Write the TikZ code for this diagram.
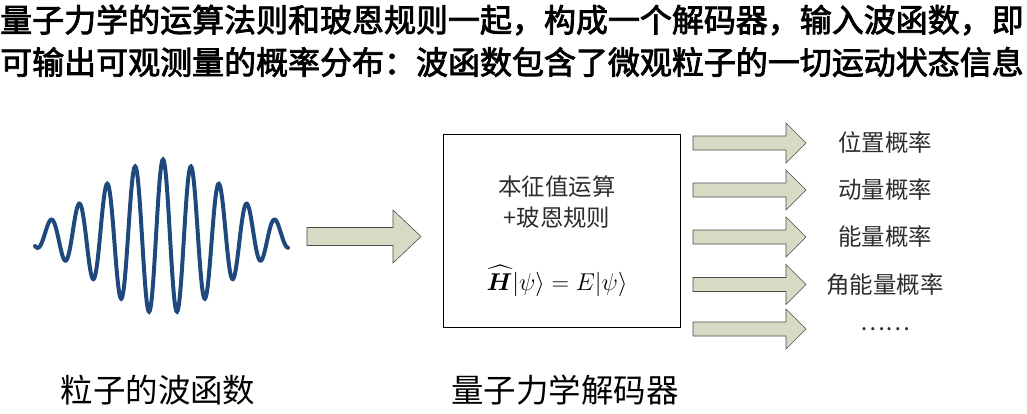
\documentclass[tikz,border=0pt]{standalone}
\usepackage{fontspec}
\usepackage{amsmath,bm}
\newfontfamily\cjk{Noto Sans CJK SC}
\newfontfamily\cjkhead[FakeBold=2.5]{Noto Sans CJK SC}
\usetikzlibrary{positioning}
\definecolor{wavblue}{RGB}{31,73,125}
\definecolor{arrowfill}{RGB}{215,218,196}
\definecolor{textgray}{RGB}{45,45,45}

\begin{document}
\begin{tikzpicture}[x=0.03cm, y=-0.03cm, font=\cjk,
        title/.style={anchor=west, inner sep=0pt, font=\cjkhead\fontsize{27.3}{30}\selectfont},
        caption/.style={inner sep=0pt, font=\cjk\fontsize{27.7}{30}\selectfont},
        decoder/.style={rectangle, draw=black, line width=0.8pt,
                        minimum width=7.11cm, minimum height=5.79cm},
        inbox/.style={inner sep=0pt, text=textgray, font=\cjk\fontsize{20}{24}\selectfont},
        result/.style={inner sep=0pt, text=textgray, font=\cjk\fontsize{20}{24}\selectfont},
        blockarrow/.style={draw=black!70, fill=arrowfill, line width=0.5pt, line join=miter}
    ]
        \useasboundingbox (0,0) rectangle (1027,413);
        % title
        \node[title] (t1) at (0,20) {量子力学的运算法则和玻恩规则一起，构成一个解码器，输入波函数，即};
        \node[title] (t2) at (0,62) {可输出可观测量的概率分布：波函数包含了微观粒子的一切运动状态信息};
        % wave packet
        \coordinate (wave) at (163,236.5);
        \draw[wavblue, line width=3.4pt, line cap=round]
            plot[domain=-128:125, samples=400, smooth]
            ({163+\x}, {236.5-77*exp(-(\x/10)*(\x/10)/82.52)*cos(\x/28*360)});
        \node[caption] (cwave) at (158,390) {粒子的波函数};
        % input arrow
        \draw[blockarrow] (307,227.5) -- (393,227.5) -- (393,210) -- (421,236.5)
            -- (393,263) -- (393,245.5) -- (307,245.5) -- cycle;
        % decoder
        \node[decoder] (dec) at (561.5,230.5) {};
        \node[inbox] (eig) at (557,187) {本征值运算};
        \node[inbox] (born) at (557,218) {+玻恩规则};
        \node[inbox, text=black, font=\fontsize{22}{26}\selectfont] (eq) at (557,281)
            {$\widehat{\bm{H}}|\psi\rangle = E|\psi\rangle$};
        \node[caption] (cdec) at (565,390) {量子力学解码器};
        % outputs
        \foreach \y/\txt [count=\i] in {143/位置概率, 190/动量概率, 237/能量概率,
                                        284.5/角能量概率, 329/……} {
            \draw[blockarrow] (693,\y-7) -- (786,\y-7) -- (786,\y-20) -- (806,\y)
                -- (786,\y+20) -- (786,\y+7) -- (693,\y+7) -- cycle;
            \node[result] (out\i) at (885,\y) {\txt};
        }
    \end{tikzpicture}
\end{document}
